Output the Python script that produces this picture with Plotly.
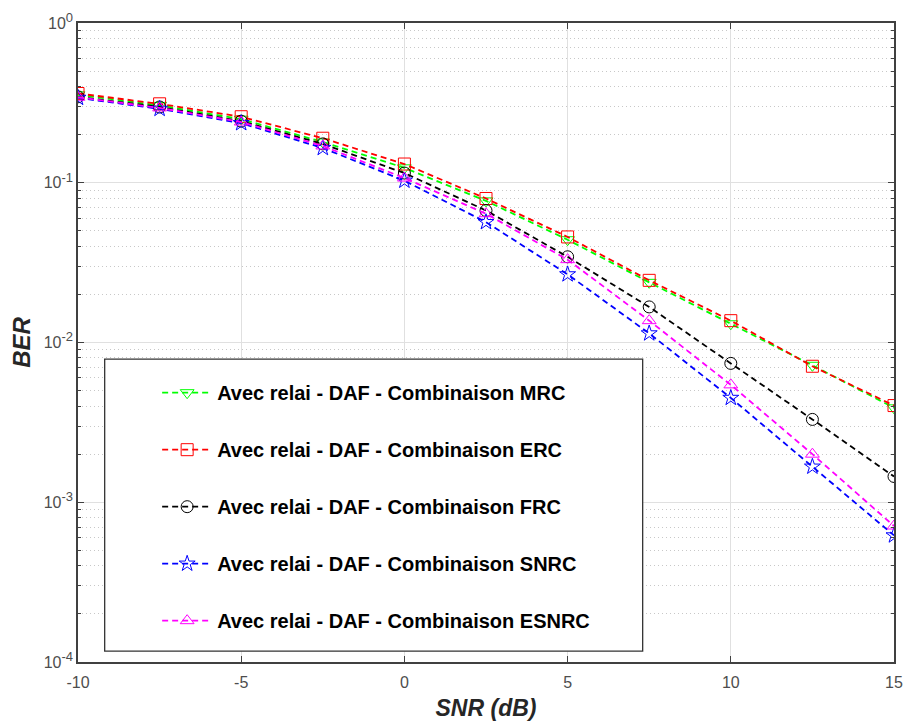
import plotly.graph_objects as go

snr = [-10, -7.5, -5, -2.5, 0, 2.5, 5, 7.5, 10, 12.5, 15]
ber_mrc = [0.355, 0.305, 0.250, 0.180, 0.124, 0.077, 0.044, 0.0238, 0.0131, 0.0072, 0.0039]
ber_erc = [0.362, 0.312, 0.259, 0.190, 0.131, 0.0797, 0.0458, 0.0245, 0.0137, 0.0071, 0.00403]
ber_frc = [0.345, 0.298, 0.243, 0.175, 0.115, 0.067, 0.0344, 0.0167, 0.0074, 0.0033, 0.00145]
ber_snrc = [0.340, 0.290, 0.236, 0.165, 0.103, 0.0567, 0.0267, 0.0114, 0.0045, 0.00167, 0.00062]
ber_esnrc = [0.343, 0.294, 0.240, 0.170, 0.107, 0.064, 0.033, 0.0137, 0.00543, 0.0020, 0.00071]

names = [
    "Avec relai - DAF - Combinaison MRC",
    "Avec relai - DAF - Combinaison ERC",
    "Avec relai - DAF - Combinaison FRC",
    "Avec relai - DAF - Combinaison SNRC",
    "Avec relai - DAF - Combinaison ESNRC",
]
series = [ber_mrc, ber_erc, ber_frc, ber_snrc, ber_esnrc]
colors = ["#00ff00", "#ff0000", "#000000", "#0000ff", "#ff00ff"]
symbols = ["triangle-down-open", "square-open", "circle-open", "star-open", "triangle-up-open"]

ytick_vals = [1e-4, 1e-3, 1e-2, 1e-1, 1]
ytick_exp = ["-4", "-3", "-2", "-1", "0"]
xtick_vals = [-10, -5, 0, 5, 10, 15]
xtick_text = ["-10", "-5", "0", "5", "10", "15"]

ytick_text = ["10<sup><span style='font-size:13px'>%s</span></sup>" % e for e in ytick_exp]

fig = go.Figure()
for i, (nm, ys, c, s) in enumerate(zip(names, series, colors, symbols)):
    fig.add_trace(go.Scatter(
        x=snr, y=ys, name=nm, mode="lines+markers", legendgroup=str(i),
        line=dict(color=c, width=1.8, dash="6px,4px"),
        marker=dict(symbol=s, size=12, color=c, line=dict(color=c, width=1)),
    ))

axis_color = "#404040"
tick_font = dict(family="Liberation Sans", size=16, color="#4d4d4d")

fig.update_layout(
    width=913, height=727,
    margin=dict(l=78, r=10, t=15, b=64),
    plot_bgcolor="white", paper_bgcolor="white",
    showlegend=True,
    legend=dict(
        x=0.097, y=0.452, xanchor="left", yanchor="top",
        bgcolor="rgba(0,0,0,0)", borderwidth=0,
        font=dict(family="Liberation Sans", size=20, color="black", weight="bold"),
        traceorder="grouped", tracegroupgap=28, itemwidth=50,
    ),
    shapes=[dict(
        type="rect", xref="paper", yref="paper",
        x0=0.0327, x1=0.692, y0=0.017, y1=0.474,
        line=dict(color="#333333", width=1.3), fillcolor="white", layer="above",
    )],
)

fig.update_xaxes(
    range=[-10, 15], tickvals=xtick_vals, ticktext=xtick_text, ticks="inside", ticklen=6,
    tickcolor=axis_color, showline=True, linecolor=axis_color, linewidth=1.5,
    mirror="ticks", showgrid=True, gridcolor="#e0e0e0", gridwidth=1,
    zeroline=False, tickfont=tick_font, ticklabelstandoff=5,
    title=dict(text="<b><i>SNR (dB)</i></b>", font=dict(family="Liberation Sans", size=23, color="#262626"), standoff=10),
)
fig.update_yaxes(
    type="log", range=[-4, 0], tickvals=ytick_vals, ticktext=ytick_text,
    ticks="inside", ticklen=6, tickcolor=axis_color, showline=True,
    linecolor=axis_color, linewidth=1.5, mirror="ticks",
    showgrid=True, gridcolor="#e0e0e0", gridwidth=1, zeroline=False,
    tickfont=tick_font,
    minor=dict(dtick="D1", ticks="inside", ticklen=3, tickcolor=axis_color,
               showgrid=True, gridcolor="#c8c8c8", griddash="1px,3px", gridwidth=1),
    title=dict(text="<b><i>BER</i></b>", font=dict(family="Liberation Sans", size=24, color="#262626"), standoff=6),
)

fig.write_html("out.html")
